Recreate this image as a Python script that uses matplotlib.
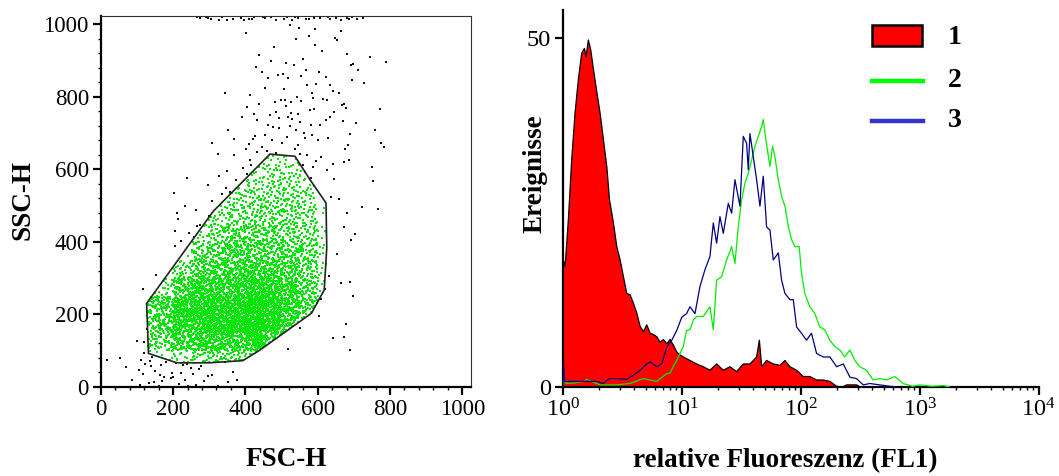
import numpy as np
import matplotlib
matplotlib.use("Agg")
import matplotlib.pyplot as plt
from matplotlib.path import Path
from matplotlib.patches import Polygon, Rectangle
from matplotlib.lines import Line2D

plt.rcParams['font.family'] = ['Liberation Serif', 'DejaVu Serif']
plt.rcParams['mathtext.fontset'] = 'custom'
plt.rcParams['mathtext.rm'] = 'Liberation Serif'
plt.rcParams['mathtext.it'] = 'Liberation Serif:italic'
plt.rcParams['mathtext.bf'] = 'Liberation Serif:bold'

# ---------------- data: left panel (FSC-H / SSC-H dot plot) ----------------
gate_fsc = [127, 132, 210, 302, 393, 440, 583, 618, 625, 623, 579, 537, 514, 468, 311, 127]
gate_ssc = [230, 92, 66, 66, 72, 101, 203, 267, 383, 507, 571, 636, 638, 642, 484, 230]

# estimated number of gated (green) events per 50x50 channel cell
green_x_edges = [100, 150, 200, 250, 300, 350, 400, 450, 500, 550, 600, 650]
green_y_edges = [50, 100, 150, 200, 250, 300, 350, 400, 450, 500, 550, 600, 650]
green_counts = [
    [5, 10, 20, 30, 35, 35, 25, 5, 0, 0, 0],
    [40, 45, 75, 85, 85, 95, 105, 65, 15, 0, 0],
    [55, 65, 105, 115, 115, 125, 140, 125, 75, 20, 0],
    [50, 60, 105, 115, 115, 120, 135, 125, 95, 55, 5],
    [15, 20, 70, 90, 90, 100, 110, 100, 80, 55, 10],
    [0, 0, 30, 60, 70, 75, 80, 75, 65, 45, 12],
    [0, 0, 5, 40, 55, 60, 60, 55, 50, 40, 12],
    [0, 0, 0, 15, 40, 45, 45, 45, 40, 32, 10],
    [0, 0, 0, 0, 20, 35, 35, 35, 35, 28, 6],
    [0, 0, 0, 0, 3, 25, 30, 30, 30, 22, 2],
    [0, 0, 0, 0, 0, 5, 20, 24, 24, 12, 0],
    [0, 0, 0, 0, 0, 0, 3, 16, 14, 0, 0],
]

# estimated number of ungated (black) events per 100x100 channel cell
black_x_edges = [0, 100, 200, 300, 400, 500, 600, 700, 800]
black_y_edges = [0, 100, 200, 300, 400, 500, 600, 700, 800, 900, 1000]
black_counts = [
    [4, 22, 22, 8, 0, 0, 0, 0],
    [0, 10, 6, 0, 0, 2, 4, 0],
    [0, 4, 4, 0, 0, 0, 6, 0],
    [0, 2, 10, 5, 0, 0, 4, 0],
    [0, 0, 9, 12, 0, 0, 4, 1],
    [0, 0, 2, 10, 10, 3, 4, 2],
    [0, 0, 0, 5, 14, 12, 9, 3],
    [0, 0, 0, 3, 11, 15, 10, 3],
    [0, 0, 0, 1, 7, 11, 7, 2],
    [0, 0, 0, 0, 4, 7, 5, 2],
]
# saturated events piled up at the top of the SSC scale
top_row_fsc = [260, 740]
top_row_ssc = [1012, 1022]
top_row_count = 36

# ---------------- data: right panel (FL1 histograms) ----------------
# x values as log10(FL1), y values = events
h1_logx = [0.0, 0.005, 0.02, 0.047, 0.075, 0.103, 0.131, 0.159, 0.182, 0.196, 0.215,
           0.235, 0.258, 0.286, 0.314, 0.342, 0.370, 0.393, 0.41, 0.426, 0.454, 0.482,
           0.510, 0.538, 0.566, 0.594, 0.622, 0.650, 0.678, 0.706, 0.734, 0.762, 0.790,
           0.818, 0.846, 0.874, 0.902, 0.930, 0.958, 0.985, 1.013, 1.069, 1.125, 1.181,
           1.237, 1.293, 1.349, 1.405, 1.461, 1.517, 1.573, 1.629, 1.652, 1.672, 1.713,
           1.769, 1.825, 1.867, 1.909, 1.965, 2.021, 2.077, 2.133, 2.189, 2.245, 2.301,
           2.35, 2.385, 2.469, 2.5]
h1_events = [18.2, 18.2, 17.3, 23.9, 32.5, 39.2, 44.0, 47.8, 48.5, 47.3, 49.7,
             48.3, 45.5, 42.3, 39.2, 35.4, 31.6, 26.8, 25.1, 23.5, 20.1, 18.2,
             15.8, 13.4, 13.2, 12.0, 10.6, 8.7, 7.9, 8.9, 7.7, 7.5, 7.2,
             6.4, 6.8, 6.2, 6.8, 6.0, 5.0, 4.6, 4.3, 3.8, 3.3, 2.9,
             2.4, 3.3, 2.4, 2.9, 2.2, 3.3, 3.3, 4.3, 6.7, 2.9, 3.8,
             3.3, 3.1, 3.8, 2.9, 2.4, 1.5, 1.5, 1.0, 1.0, 0.8, 0.1,
             0.0, 0.3, 0.3, 0.0]

h2_logx = [0.0, 0.005, 0.03, 0.1, 0.182, 0.2, 0.314, 0.45, 0.566, 0.678, 0.734, 0.79,
           0.818, 0.874, 0.902, 0.93, 0.958, 0.985, 1.013, 1.04, 1.069, 1.097, 1.125,
           1.181, 1.237, 1.265, 1.293, 1.335, 1.377, 1.419, 1.447, 1.475, 1.503, 1.531,
           1.559, 1.587, 1.615, 1.643, 1.671, 1.685, 1.707, 1.741, 1.763, 1.783, 1.811,
           1.839, 1.867, 1.895, 1.923, 1.951, 1.987, 2.006, 2.034, 2.076, 2.118, 2.160,
           2.202, 2.244, 2.286, 2.328, 2.370, 2.412, 2.454, 2.496, 2.552, 2.608, 2.664,
           2.72, 2.79, 2.86, 2.94, 3.0, 3.1, 3.2, 3.25]
h2_events = [0.0, 1.2, 0.5, 0.6, 0.8, 1.1, 0.3, 0.3, 0.5, 1.2, 1.0, 0.8,
             1.2, 1.9, 2.0, 3.0, 3.8, 4.8, 5.8, 8.1, 8.2, 9.6, 10.1,
             10.1, 11.5, 8.2, 15.3, 15.8, 18.2, 20.1, 17.7, 23.0, 26.8, 29.2,
             30.6, 32.5, 34.5, 35.9, 37.3, 38.3, 35.4, 31.6, 34.5, 33.0, 29.7,
             27.3, 25.9, 23.0, 21.1, 20.1, 20.1, 16.3, 13.4, 11.5, 10.5, 8.6,
             8.2, 6.7, 5.8, 5.3, 4.3, 5.3, 3.8, 2.9, 2.4, 1.0, 1.2,
             1.0, 1.5, 0.5, 0.1, 0.3, 0.1, 0.2, 0.0]

h3_logx = [0.0, 0.005, 0.015, 0.05, 0.15, 0.286, 0.34, 0.39, 0.454, 0.538, 0.594, 0.65,
           0.706, 0.734, 0.79, 0.832, 0.874, 0.916, 0.958, 1.0, 1.04, 1.069, 1.111,
           1.153, 1.195, 1.237, 1.265, 1.293, 1.321, 1.349, 1.391, 1.419, 1.447, 1.489,
           1.517, 1.545, 1.559, 1.573, 1.601, 1.629, 1.657, 1.685, 1.713, 1.741, 1.769,
           1.811, 1.839, 1.867, 1.909, 1.937, 1.965, 2.006, 2.048, 2.09, 2.133, 2.189,
           2.245, 2.301, 2.357, 2.413, 2.469, 2.525, 2.58, 2.664, 2.75, 2.8]
h3_events = [0.0, 3.6, 0.8, 0.8, 0.8, 0.8, 0.5, 1.2, 1.2, 1.1, 1.7, 2.4,
             3.3, 3.6, 2.9, 3.3, 5.7, 6.7, 8.1, 10.0, 10.5, 11.5, 10.5,
             14.4, 16.8, 18.7, 23.5, 20.6, 24.4, 22.0, 26.3, 24.9, 29.7, 25.9,
             35.9, 34.9, 31.1, 36.3, 33.0, 29.7, 25.9, 30.2, 22.9, 22.5, 18.2,
             19.2, 15.3, 13.4, 12.5, 12.5, 8.6, 7.7, 6.7, 7.7, 4.8, 4.3,
             4.3, 2.9, 3.3, 1.4, 1.2, 0.3, 0.5, 0.3, 0.1, 0.0]

legend_labels = ['1', '2', '3']
y_ticks_hist = [0, 50]
scatter_ticks = [0, 200, 400, 600, 800, 1000]


# ---------------- helpers: spread the cell counts as dots ----------------
def halton(idx, base):
    idx = np.asarray(idx, dtype=np.int64).copy()
    f = np.ones(idx.shape)
    r = np.zeros(idx.shape)
    while np.any(idx > 0):
        f = f / base
        r += f * (idx % base)
        idx //= base
    return r


def spread_counts(x_edges, y_edges, counts, start):
    """Deterministic low-discrepancy layout of events whose per-cell
    numbers are given by `counts`."""
    counts = np.asarray(counts, dtype=float)
    xe = np.asarray(x_edges, float); ye = np.asarray(y_edges, float)
    cmax = counts.max()
    ncand = int(counts.size * cmax)
    k = np.arange(start, start + ncand)
    x = xe[0] + halton(k, 2) * (xe[-1] - xe[0])
    y = ye[0] + halton(k, 3) * (ye[-1] - ye[0])
    u = halton(k, 5)
    ci = np.clip(np.searchsorted(xe, x, side='right') - 1, 0, len(xe) - 2)
    ri = np.clip(np.searchsorted(ye, y, side='right') - 1, 0, len(ye) - 2)
    keep = u < counts[ri, ci] / cmax
    return x[keep], y[keep]


gate_path = Path(np.column_stack([gate_fsc, gate_ssc]))

gx, gy = spread_counts(green_x_edges, green_y_edges, green_counts, 1)
inside = gate_path.contains_points(np.column_stack([gx, gy]))
gx, gy = gx[inside], gy[inside]

bx, by = spread_counts(black_x_edges, black_y_edges, black_counts, 101)
tx, ty = spread_counts(top_row_fsc, top_row_ssc, [[top_row_count]], 7)
bx = np.concatenate([bx, tx]); by = np.concatenate([by, ty])
outside = ~gate_path.contains_points(np.column_stack([bx, by]))
bx, by = bx[outside], by[outside]

# ---------------- figure ----------------
fig = plt.figure(figsize=(10.59, 4.76), dpi=100)

# left panel
ax1 = fig.add_axes([0.0951, 0.1876, 0.3497, 0.7794])
ax1.scatter(gx, gy, s=1.2, marker='s', c='#00e600', linewidths=0, zorder=2)
ax1.scatter(bx, by, s=1.1, marker='s', c='#111111', linewidths=0, zorder=2)
ax1.add_patch(Polygon(np.column_stack([gate_fsc, gate_ssc]), closed=True, fill=False,
                      edgecolor='#222222', linewidth=1.2, zorder=3))
ax1.set_xlim(0, 1024)
ax1.set_ylim(0, 1024)
ax1.set_xticks(scatter_ticks)
ax1.set_yticks(scatter_ticks)
ax1.set_xticks(np.arange(0, 1001, 40), minor=True)
ax1.set_yticks(np.arange(0, 1001, 40), minor=True)
ax1.tick_params(which='major', direction='out', length=5.5, width=1.6, labelsize=16.5, pad=3)
ax1.tick_params(which='minor', direction='out', length=2.5, width=1.0)
for s in ['left', 'bottom']:
    ax1.spines[s].set_linewidth(1.6)
for s in ['top', 'right']:
    ax1.spines[s].set_linewidth(0.8)
    ax1.spines[s].set_color('#333333')
ax1.set_xlabel('FSC-H', fontsize=19.5, fontweight='bold')
ax1.set_ylabel('SSC-H', fontsize=19.5, fontweight='bold')
ax1.xaxis.set_label_coords(0.502, -0.162)
ax1.yaxis.set_label_coords(-0.177, 0.503)

# right panel
ax2 = fig.add_axes([0.5314, 0.187, 0.4495, 0.792])
x1 = 10 ** np.array(h1_logx); x2 = 10 ** np.array(h2_logx); x3 = 10 ** np.array(h3_logx)
ax2.fill_between(x1, h1_events, 0, facecolor='#ff0000', edgecolor='none', zorder=1)
ax2.plot(x1, h1_events, color='black', lw=0.9, zorder=2)
ax2.plot(x2, h2_events, color='#00ee00', lw=0.9, zorder=3)
ax2.plot(x3, h3_events, color='#000080', lw=0.9, zorder=4)
ax2.set_xscale('log')
ax2.set_xlim(1, 1e4)
ax2.set_ylim(0, 54)
ax2.set_yticks(y_ticks_hist)
for s in ['top', 'right']:
    ax2.spines[s].set_visible(False)
for s in ['left', 'bottom']:
    ax2.spines[s].set_linewidth(1.6)
ax2.tick_params(which='major', direction='out', length=5.5, width=1.6, labelsize=17.5, pad=3)
ax2.tick_params(which='minor', direction='out', length=2.5, width=1.0)
ax2.set_xlabel('relative Fluoreszenz (FL1)', fontsize=19.5, fontweight='bold')
ax2.set_ylabel('Ereignisse', fontsize=19.5, fontweight='bold')
ax2.xaxis.set_label_coords(0.467, -0.162)
ax2.yaxis.set_label_coords(-0.033, 0.565)

# legend (drawn in axes coordinates)
t = ax2.transAxes
ax2.add_patch(Rectangle((0.650, 0.9045), 0.105, 0.0555, transform=t, facecolor='#ff0000',
                        edgecolor='black', linewidth=1.8, zorder=6, clip_on=False))
ax2.add_line(Line2D([0.650, 0.757], [0.8117, 0.8117], transform=t, color='#00ff00', lw=3.2, zorder=6))
ax2.add_line(Line2D([0.650, 0.757], [0.7056, 0.7056], transform=t, color='#3333cc', lw=3.2, zorder=6))
for lab, yy in zip(legend_labels, [0.928, 0.812, 0.706]):
    ax2.text(0.809, yy, lab, transform=t, fontsize=20, fontweight='bold', va='center', ha='left')

fig.savefig('out.png', dpi=100)
